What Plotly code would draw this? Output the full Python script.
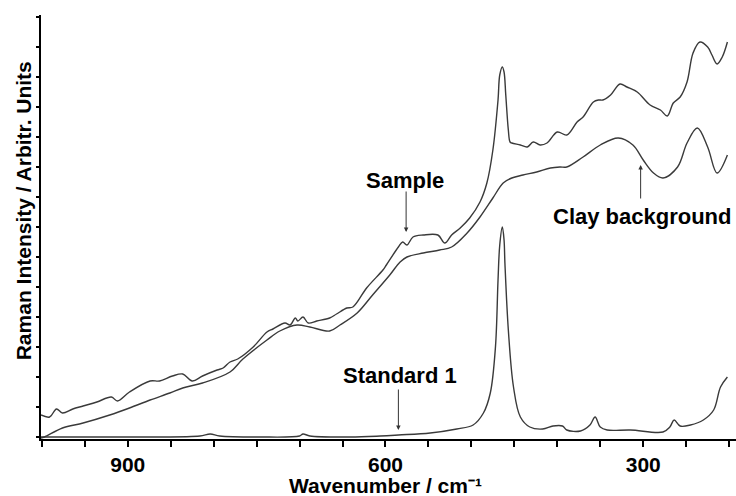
import plotly.graph_objects as go

# Raman spectra (wavenumber in cm-1, intensity in arbitrary units)
sample_wn = [1001, 991, 983, 976, 964, 952, 936, 919, 912, 898, 874, 863, 848, 836, 825, 813,
             796, 789, 781, 772, 754, 738, 731, 717, 711, 705, 702, 696, 690, 680, 665, 657,
             645, 638, 622, 603, 599, 585, 580, 575, 568, 556, 539, 531, 523, 513, 502, 490,
             482, 475, 469, 467, 464, 462, 460, 457, 455, 453, 443, 435, 428, 420, 412, 400,
             389, 377, 370, 358, 352, 347, 338, 327, 319, 307, 292, 280, 272, 265, 257, 249,
             242, 234, 225, 220, 214, 208, 202]
sample_int = [24, 22, 30, 26, 30, 33, 37, 42, 38, 47, 58, 58, 63, 65, 58, 63,
              69, 71, 77, 80, 92, 107, 110, 116, 114, 121, 118, 122, 116, 118, 121, 125,
              131, 132, 151, 169, 174, 192, 197, 194, 202, 204, 204, 196, 204, 211, 221, 237,
              256, 289, 339, 364, 372, 367, 344, 309, 297, 296, 294, 292, 297, 294, 296, 307,
              304, 317, 322, 337, 339, 339, 344, 355, 352, 347, 334, 329, 323, 336, 342, 357,
              386, 397, 392, 384, 375, 382, 397]

clay_wn = [1001, 997, 976, 952, 921, 898, 874, 851, 836, 813, 781, 766, 738, 723, 703, 688,
           665, 653, 633, 615, 595, 583, 575, 556, 537, 523, 505, 490, 475, 463, 453, 440,
           424, 408, 397, 389, 370, 350, 329, 312, 300, 288, 277, 260, 249, 237, 225, 214, 202]
clay_int = [1, 2, 11, 16, 24, 31, 39, 46, 51, 56, 67, 80, 99, 108, 114, 112,
            108, 114, 126, 144, 164, 177, 182, 186, 189, 192, 206, 222, 241, 256, 261, 264,
            267, 271, 272, 272, 282, 294, 301, 294, 279, 266, 261, 272, 296, 311, 292, 266, 284]

std_wn = [1001, 933, 874, 816, 804, 793, 746, 700, 696, 688, 641, 606, 585, 548, 517, 498,
          486, 478, 472, 469, 467, 464, 462, 461, 457, 451, 443, 432, 417, 405, 394, 389,
          373, 362, 356, 350, 342, 315, 277, 269, 264, 257, 245, 230, 218, 210, 202]
std_int = [2, 2, 2, 3, 5, 3, 2, 3, 5, 3, 2, 3, 4, 6, 10, 14,
           26, 46, 92, 159, 194, 212, 199, 176, 109, 52, 22, 12, 10, 13, 13, 9,
           8, 14, 22, 12, 9, 9, 7, 12, 19, 13, 14, 19, 29, 52, 62]

FONT = "Liberation Sans, Arial, sans-serif"
LINE = dict(color="#3a3a3a", width=1.4)

fig = go.Figure()
for wn, inten in [(sample_wn, sample_int), (clay_wn, clay_int), (std_wn, std_int)]:
    fig.add_trace(go.Scatter(x=wn, y=inten, mode="lines", line=LINE,
                             line_shape="spline", showlegend=False, hoverinfo="skip"))

# labels with their pointer arrows
labels = [
    ("Sample", 577, 259),
    ("Standard 1", 583, 64),
    ("Clay background", 302, 223),
]
for text, xw, yi in labels:
    fig.add_annotation(x=xw, y=yi, text=f"<b>{text}</b>", showarrow=False,
                       xanchor="center", yanchor="middle",
                       font=dict(family=FONT, size=22, color="black"))

arrows = [
    (576, 207, 249),   # x, tip, tail
    (585, 9, 51),
    (303, 274, 239),
]
for xw, tip, tail in arrows:
    fig.add_annotation(x=xw, y=tip, ax=xw, ay=tail, axref="x", ayref="y",
                       text="", showarrow=True, arrowhead=2, arrowsize=0.9,
                       arrowwidth=1, arrowcolor="#333")

# axis titles
fig.add_annotation(xref="paper", yref="paper", x=0.496, y=0, yshift=-46,
                   xanchor="center", yanchor="middle",
                   text="<b>Wavenumber / cm\u207b\u00b9</b>", showarrow=False,
                   font=dict(family=FONT, size=21, color="black"))
fig.add_annotation(xref="paper", yref="paper", x=0, y=0.537, xshift=-18,
                   xanchor="center", yanchor="middle",
                   text="<b>Raman Intensity / Arbitr. Units</b>", showarrow=False,
                   textangle=-90, font=dict(family=FONT, size=21, color="black"))

fig.update_layout(
    width=736, height=496,
    margin=dict(l=41, r=0, t=15, b=57),
    paper_bgcolor="white", plot_bgcolor="white",
    xaxis=dict(range=[1001, 192], showgrid=False, zeroline=False,
               showline=True, linewidth=2, linecolor="black",
               ticks="outside", ticklen=6, tickwidth=2, tickcolor="black",
               tick0=0, dtick=300,
               tickfont=dict(family=FONT, size=21, color="black", weight="bold"),
               minor=dict(dtick=50, ticks="outside", ticklen=6, tickwidth=2,
                          tickcolor="black", showgrid=False)),
    yaxis=dict(range=[0, 424], showgrid=False, zeroline=False,
               showline=True, linewidth=2, linecolor="black",
               ticks="outside", ticklen=3, tickwidth=2, tickcolor="black",
               tick0=2, dtick=30, showticklabels=False),
)

fig.write_html("out.html")
